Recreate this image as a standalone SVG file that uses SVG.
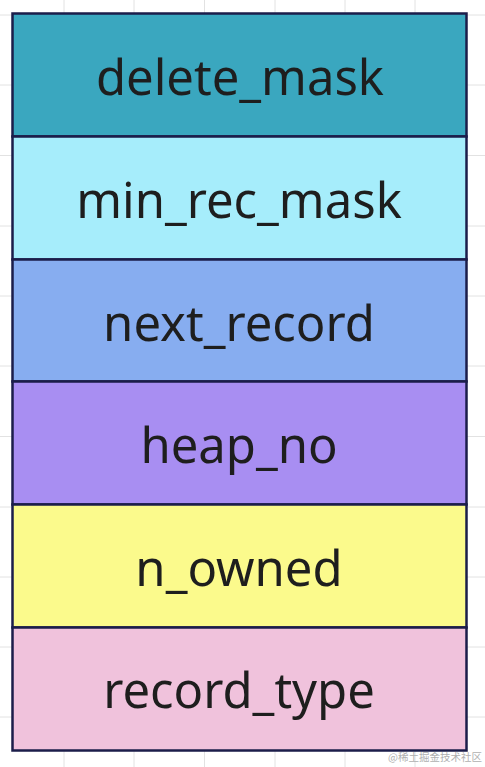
<svg xmlns="http://www.w3.org/2000/svg" width="485" height="767" viewBox="0 0 485 767">
<style>
.grid line{stroke:#e2e2e2;stroke-width:1}
.cell{stroke:#1b1d4a;stroke-width:2.5}
.lbl{font-family:"Noto Sans","Open Sans",sans-serif;font-size:49px;fill:#1e1e1e;text-anchor:middle}
.wm{font-family:"Noto Sans CJK SC",sans-serif;font-size:10.5px;fill:#b0b0b0;text-anchor:end}
</style>
<rect width="485" height="767" fill="#ffffff"/>
<g class="grid">
<line x1="64" y1="0" x2="64" y2="767"/><line x1="134" y1="0" x2="134" y2="767"/><line x1="204.5" y1="0" x2="204.5" y2="767"/><line x1="275" y1="0" x2="275" y2="767"/><line x1="345" y1="0" x2="345" y2="767"/><line x1="415" y1="0" x2="415" y2="767"/>
<line x1="0" y1="15" x2="485" y2="15"/><line x1="0" y1="85" x2="485" y2="85"/><line x1="0" y1="155.5" x2="485" y2="155.5"/><line x1="0" y1="226" x2="485" y2="226"/><line x1="0" y1="296" x2="485" y2="296"/><line x1="0" y1="366" x2="485" y2="366"/><line x1="0" y1="436.5" x2="485" y2="436.5"/><line x1="0" y1="507" x2="485" y2="507"/><line x1="0" y1="577" x2="485" y2="577"/><line x1="0" y1="647" x2="485" y2="647"/><line x1="0" y1="717" x2="485" y2="717"/>
</g>
<g id="delete_mask"><rect class="cell" x="12.5" y="13.5" width="454" height="123" fill="#3aa7bf"/><text class="lbl" x="240" y="95">delete_mask</text></g>
<g id="min_rec_mask"><rect class="cell" x="12.5" y="136.5" width="454" height="123" fill="#a6edfb"/><text class="lbl" x="239" y="218">min_rec_mask</text></g>
<g id="next_record"><rect class="cell" x="12.5" y="259.5" width="454" height="122" fill="#87adf0"/><text class="lbl" x="239" y="341">next_record</text></g>
<g id="heap_no"><rect class="cell" x="12.5" y="381.5" width="454" height="123" fill="#a88ef2"/><text class="lbl" x="239" y="463">heap_no</text></g>
<g id="n_owned"><rect class="cell" x="12.5" y="504.5" width="454" height="123" fill="#fbfa8c"/><text class="lbl" x="239" y="586">n_owned</text></g>
<g id="record_type"><rect class="cell" x="12.5" y="627.5" width="454" height="123" fill="#f0c2dc"/><text class="lbl" x="239" y="708">record_type</text></g>
<text class="wm" x="482" y="761">@稀土掘金技术社区</text>
</svg>
